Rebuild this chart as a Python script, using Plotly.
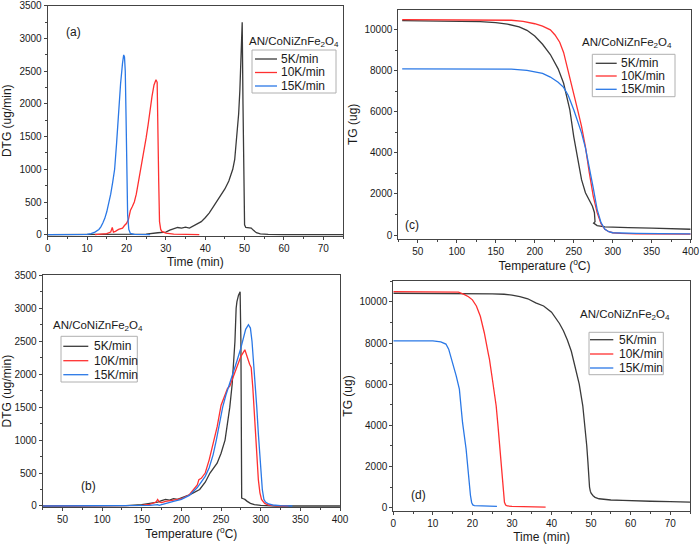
import plotly.graph_objects as go

# ---------------- data ----------------
series_names = ["5K/min", "10K/min", "15K/min"]
series_colors = ["#3a3a3a", "#ff3030", "#2a78e6"]
sample_title = "AN/CoNiZnFe<sub>2</sub>O<sub>4</sub>"

# (a) DTG vs time
a_t5 = [0, 10, 20, 25, 28, 30, 31, 32, 33, 34, 35, 36, 37, 38, 39, 40, 41, 42, 43, 44, 45, 46, 47, 47.5, 48, 48.5, 48.8, 49.1, 49.25, 49.4, 49.6, 49.8, 50.0, 50.3, 51, 51.7, 52.2, 53, 54, 56, 60, 75]
a_d5 = [0, 0, 5, 10, 30, 40, 70, 90, 110, 100, 115, 100, 130, 160, 200, 260, 330, 420, 510, 600, 700, 820, 1000, 1150, 1450, 1850, 2200, 2700, 3050, 3250, 2000, 700, 150, 110, 105, 100, 70, 30, 12, 4, 0, 0]
a_t10 = [12, 14, 15, 16, 16.4, 16.7, 17.2, 18, 19, 19.5, 20, 20.5, 21, 21.5, 22, 22.5, 23, 23.5, 24, 24.5, 25, 25.5, 26, 26.5, 27, 27.5, 27.8, 28.0, 28.2, 28.4, 28.7, 29, 30, 32, 35, 38.5]
a_d10 = [0, 5, 15, 40, 110, 40, 50, 80, 100, 140, 170, 230, 370, 430, 500, 620, 780, 950, 1100, 1300, 1480, 1680, 1920, 2120, 2290, 2370, 2330, 1800, 800, 200, 80, 50, 25, 10, 3, 0]
a_t15 = [0, 8, 10, 11, 12, 13, 13.5, 14, 14.5, 15, 15.5, 16, 16.5, 17, 17.5, 18, 18.5, 19, 19.3, 19.5, 19.7, 19.9, 20.1, 20.3, 20.6, 21, 22, 26]
a_d15 = [0, 0, 5, 15, 40, 80, 120, 180, 250, 350, 470, 620, 800, 1000, 1400, 1900, 2300, 2620, 2750, 2720, 2500, 1800, 900, 300, 80, 20, 5, 0]

# (b) DTG vs temperature
b_T5 = [25, 100, 130, 150, 160, 165, 170, 175, 180, 185, 190, 195, 200, 205, 210, 215, 223, 230, 236, 245, 250, 255, 258, 261, 264, 266, 267.5, 269, 270, 272, 274, 275, 275.5, 276, 278, 280, 283, 287, 292, 300, 320, 400]
b_D5 = [0, 0, 5, 20, 35, 50, 60, 80, 100, 90, 110, 100, 120, 140, 170, 200, 250, 360, 500, 650, 800, 1000, 1250, 1500, 1850, 2200, 2500, 3000, 3100, 3200, 3250, 2500, 500, 120, 110, 100, 70, 40, 20, 8, 0, 0]
b_T10 = [25, 120, 150, 160, 165, 168, 170, 172, 175, 180, 190, 200, 210, 215, 220, 222, 225, 230, 235, 240, 245, 250, 255, 258, 261, 265, 270, 275, 280, 283, 286, 288, 290, 293, 295, 297, 299, 301, 305, 310, 320, 335]
b_D10 = [0, 0, 10, 25, 40, 60, 100, 60, 50, 70, 90, 110, 170, 240, 320, 400, 420, 500, 700, 950, 1200, 1530, 1700, 1780, 1820, 1950, 2130, 2270, 2370, 2250, 2150, 2100, 1800, 1200, 700, 400, 200, 100, 40, 15, 3, 0]
b_T15 = [25, 140, 160, 170, 172, 175, 180, 190, 200, 210, 220, 230, 235, 240, 244, 248, 252, 256, 260, 265, 270, 275, 278, 281, 284.5, 287, 289, 291, 293, 295, 297, 300, 302, 304, 306, 310, 315, 325, 340]
b_D15 = [0, 0, 10, 20, 10, 20, 40, 70, 100, 160, 280, 450, 580, 780, 1000, 1250, 1500, 1680, 1820, 2000, 2200, 2400, 2550, 2680, 2750, 2700, 2500, 2200, 1800, 1500, 1100, 500, 250, 100, 60, 30, 15, 5, 0]

# (c) TG vs temperature
c_T5 = [30, 60, 100, 130, 150, 165, 180, 190, 200, 210, 220, 230, 237, 245, 250, 255, 260, 265, 270, 274, 276.5, 277.5, 277.3, 275.5, 280, 290, 300, 320, 350, 380, 400]
c_G5 = [10450, 10430, 10420, 10400, 10350, 10280, 10150, 9980, 9700, 9300, 8800, 8100, 7400, 6100, 4800, 3700, 2700, 2060, 1730, 1400, 1100, 800, 650, 580, 460, 400, 380, 360, 340, 310, 280]
c_T10 = [30, 100, 150, 170, 185, 200, 210, 220, 226, 232, 237, 241, 245, 250, 255, 260, 265, 270, 275, 280, 285, 290, 295, 300, 310, 330, 360, 400]
c_G10 = [10500, 10500, 10490, 10470, 10420, 10300, 10180, 10000, 9750, 9400, 8900, 8300, 7600, 6850, 6100, 5300, 4300, 3030, 1900, 1090, 550, 280, 160, 110, 80, 60, 50, 40]
c_T15 = [30, 100, 150, 170, 190, 200, 210, 220, 230, 237, 243, 250, 255, 260, 265, 270, 275, 280, 285, 290, 295, 300, 310, 330, 360, 400]
c_G15 = [8100, 8110, 8110, 8090, 8030, 7970, 7880, 7700, 7450, 7200, 6800, 6110, 5580, 4980, 4250, 3350, 2300, 1250, 600, 280, 160, 110, 90, 80, 70, 60]

# (d) TG vs time
d_t5 = [0, 10, 20, 25, 28, 30, 32, 34, 36, 38, 40, 41, 42, 43, 44, 45, 46, 47, 47.9, 48.5, 48.9, 49.2, 49.4, 49.6, 49.8, 50, 50.5, 51, 52, 53, 55, 58, 60, 65, 70, 75]
d_G5 = [10420, 10420, 10400, 10390, 10370, 10330, 10250, 10150, 9950, 9800, 9500, 9250, 8950, 8600, 8150, 7600, 6850, 6000, 4950, 3900, 3010, 2200, 1500, 1000, 800, 700, 580, 500, 430, 400, 370, 350, 330, 310, 290, 270]
d_t10 = [0, 10, 15, 16.5, 18, 19, 20, 21, 22, 23, 24, 24.3, 25, 26, 26.5, 27.2, 27.7, 28.1, 28.4, 28.8, 30, 33, 36, 38.5]
d_G10 = [10500, 10500, 10490, 10470, 10350, 10250, 10100, 9800, 9300, 8500, 7500, 7220, 6300, 4950, 3900, 2360, 1300, 260, 130, 80, 60, 40, 30, 20]
d_t15 = [0, 5, 10, 12, 13.3, 14, 15, 15.9, 16.7, 17.5, 18.4, 19.2, 19.5, 19.8, 20.1, 20.5, 22, 24, 26.2]
d_G15 = [8100, 8100, 8100, 8060, 7950, 7700, 7050, 6400, 5760, 4140, 2850, 1070, 600, 250, 130, 100, 85, 75, 60]

panel_labels = ["(a)", "(c)", "(b)", "(d)"]

# ---------------- layout helpers ----------------
W, H = 700, 546
def X(px):
    return px / W
def Y(py):
    return 1 - py / H

FONT = "Liberation Sans, Arial, sans-serif"
AX_COL = "#444444"
TXT = "#1a1a1a"

fig = go.Figure()

panels = [
    ("", [a_t5, a_t10, a_t15], [a_d5, a_d10, a_d15]),
    ("2", [c_T5, c_T10, c_T15], [c_G5, c_G10, c_G15]),
    ("3", [b_T5, b_T10, b_T15], [b_D5, b_D10, b_D15]),
    ("4", [d_t5, d_t10, d_t15], [d_G5, d_G10, d_G15]),
]
for suf, xs, ys in panels:
    for i in range(3):
        fig.add_trace(go.Scatter(
            x=xs[i], y=ys[i], mode="lines", name=series_names[i],
            line=dict(color=series_colors[i], width=1.3),
            xaxis="x" + suf, yaxis="y" + suf, showlegend=False,
        ))

def axis(domain, rng, dtick, minor, title, anchor, tick0=0, standoff=None):
    d = dict(
        domain=domain, range=rng, dtick=dtick, tick0=tick0, anchor=anchor,
        automargin=False, tickformat="d", ticklabeloverflow="allow",
        showgrid=False, zeroline=False, showline=True, mirror=True,
        linecolor=AX_COL, linewidth=1, ticks="outside", ticklen=3,
        tickcolor=AX_COL, tickwidth=1,
        tickfont=dict(family=FONT, size=10, color=TXT),
        minor=dict(dtick=minor, tick0=tick0, ticks="outside", ticklen=2,
                   tickcolor=AX_COL, showgrid=False),
        title=dict(text=title, font=dict(family=FONT, size=12, color=TXT)),
    )
    if standoff is not None:
        d["title"]["standoff"] = standoff
    return d

temp_title = "Temperature (<sup>o</sup>C)"
fig.update_layout(
    xaxis=axis([X(47.7), X(343)], [0, 75], 10, 5, "Time (min)", "y", standoff=4),
    yaxis=axis([Y(236), Y(5.5)], [-20, 3505], 500, 250, "DTG (ug/min)", "x", standoff=6),
    xaxis2=axis([X(398.3), X(690.7)], [25, 400], 50, 25, temp_title, "y2", standoff=4),
    yaxis2=axis([Y(238.7), Y(10)], [-180, 10970], 2000, 1000, "TG (ug)", "x2", standoff=4),
    xaxis3=axis([X(42.7), X(340)], [25, 400], 50, 25, temp_title, "y3", standoff=4),
    yaxis3=axis([Y(507.3), Y(275)], [-20, 3505], 500, 250, "DTG (ug/min)", "x3", standoff=4),
    xaxis4=axis([X(393.3), X(690)], [0, 75], 10, 5, "Time (min)", "y4", standoff=4),
    yaxis4=axis([Y(510.7), Y(281.3)], [-150, 11000], 2000, 1000, "TG (ug)", "x4", standoff=4),
)

shapes = []
annotations = []

label_pos = [(73, 31.7), (411.5, 225), (88.3, 486.3), (418.3, 495.3)]
for lab, (px, py) in zip(panel_labels, label_pos):
    annotations.append(dict(text=lab, x=X(px), y=Y(py), xref="paper", yref="paper",
                            showarrow=False, xanchor="center", yanchor="middle",
                            font=dict(family=FONT, size=12, color=TXT)))

legends = [
    ((293.5, 42), (252, 336, 50, 93), (59, 72.5, 86), (255, 277), 279),
    ((627, 42.7), (592.3, 675, 54.3, 96.7), (63.3, 76, 89.3), (595.7, 616.7), 619.3),
    ((98, 325.7), (61, 137.3, 336.3, 382), (346.3, 360.7, 374.7), (63.3, 88.3), 91.7),
    ((624.8, 314.7), (589, 663.3, 332.3, 374.7), (339.7, 354, 368), (590, 613.3), 616.7),
]
for (tc, box, eys, lx, tx) in legends:
    annotations.append(dict(text=sample_title, x=X(tc[0]), y=Y(tc[1]), xref="paper", yref="paper",
                            showarrow=False, xanchor="center", yanchor="middle",
                            font=dict(family=FONT, size=11.5, color=TXT)))
    shapes.append(dict(type="rect", xref="paper", yref="paper",
                       x0=X(box[0]), x1=X(box[1]), y0=Y(box[3]), y1=Y(box[2]),
                       line=dict(color="#b0b0b0", width=1), fillcolor="rgba(0,0,0,0)"))
    for i, ey in enumerate(eys):
        shapes.append(dict(type="line", xref="paper", yref="paper",
                           x0=X(lx[0]), x1=X(lx[1]), y0=Y(ey), y1=Y(ey),
                           line=dict(color=series_colors[i], width=1.3)))
        annotations.append(dict(text=series_names[i], x=X(tx), y=Y(ey), xref="paper", yref="paper",
                                showarrow=False, xanchor="left", yanchor="middle",
                                font=dict(family=FONT, size=12, color=TXT)))

fig.update_layout(
    width=W, height=H, margin=dict(l=0, r=0, t=0, b=0),
    paper_bgcolor="white", plot_bgcolor="white",
    shapes=shapes, annotations=annotations, showlegend=False,
)

fig.write_html(
    "out.html",
    config={"displayModeBar": False},
    post_script="document.body.style.margin='0';document.body.style.overflow='hidden';",
)
